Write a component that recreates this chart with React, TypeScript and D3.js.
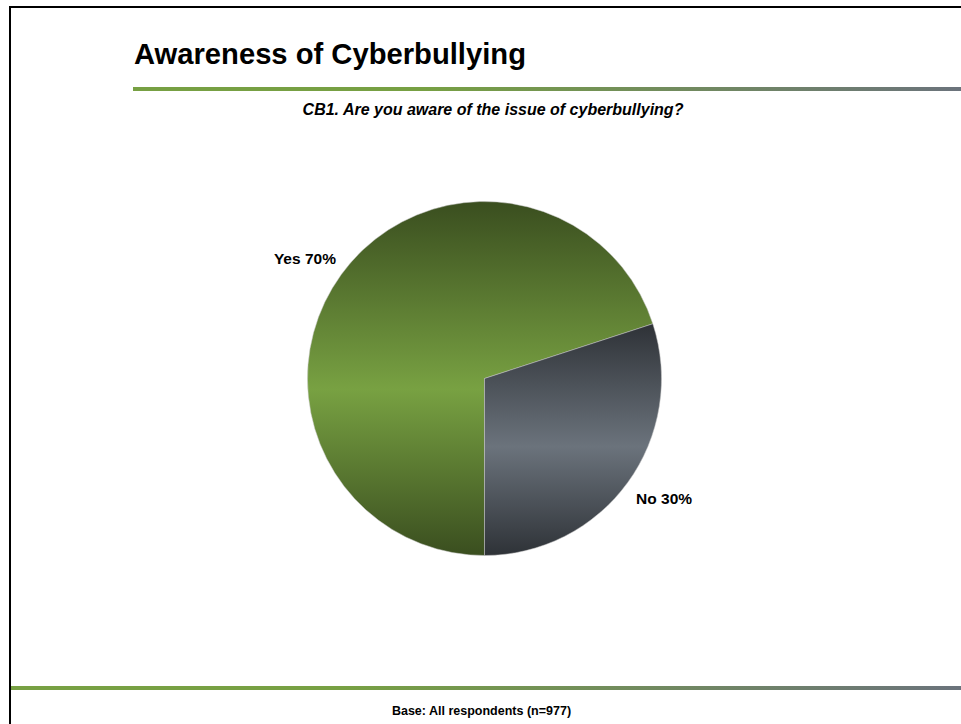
import React from "react";
import * as d3 from "d3";

const categories = ["Yes", "No"];
const values = [70, 30];
const title = "Awareness of Cyberbullying";
const subtitle = "CB1. Are you aware of the issue of cyberbullying?";
const footer = "Base: All respondents (n=977)";

const W = 961;
const H = 724;
const cx = 484.5;
const cy = 378.5;
const R = 177;
const FONT = "Arial, 'Liberation Sans', Helvetica, sans-serif";

const sliceGrad = [
  { id: "gYes", dark: "#3a4e1f", light: "#78a142" },
  { id: "gNo", dark: "#2e3237", light: "#6b737c" },
];

export default function App() {
  const data = categories.map((c, i) => ({ label: c, value: values[i] }));
  const pie = d3
    .pie<{ label: string; value: number }>()
    .value((d) => d.value)
    .sort(null)
    .startAngle(Math.PI)
    .endAngle(3 * Math.PI);
  const arcs = pie(data);
  const arc = d3.arc<any>().innerRadius(0).outerRadius(R);
  const labelArcX = d3.arc<any>().innerRadius(222).outerRadius(222);
  const labelArcY = d3.arc<any>().innerRadius(204).outerRadius(204);

  return (
    <svg
      width={W}
      height={H}
      style={{ position: "absolute", left: 0, top: 0, background: "#fff" }}
    >
      <defs>
        {sliceGrad.map((g) => (
          <linearGradient key={g.id} id={g.id} x1="0" y1="0" x2="0" y2="1">
            <stop offset="0" stopColor={g.dark} />
            <stop offset="0.53" stopColor={g.light} />
            <stop offset="1" stopColor={g.dark} />
          </linearGradient>
        ))}
        <linearGradient id="lineGrad" x1="0" y1="0" x2="1" y2="0">
          <stop offset="0" stopColor="#77a043" />
          <stop offset="0.35" stopColor="#77a043" />
          <stop offset="1" stopColor="#6b737c" />
        </linearGradient>
      </defs>
      <rect x={10} y={7} width={W + 20} height={H + 20} fill="none" stroke="#000" strokeWidth={2} />
      <text x={134} y={64} fontFamily={FONT} fontWeight="bold" fontSize={29.2} fill="#000">
        {title}
      </text>
      <rect x={133} y={87} width={W - 133} height={4} fill="url(#lineGrad)" />
      <text
        x={493}
        y={115}
        fontFamily={FONT}
        fontWeight="bold"
        fontStyle="italic"
        fontSize={16}
        textAnchor="middle"
        fill="#000"
      >
        {subtitle}
      </text>
      <g transform={`translate(${cx},${cy})`}>
        {arcs.map((a, i) => (
          <path
            key={a.data.label}
            d={arc(a) as string}
            fill={`url(#${sliceGrad[i].id})`}
            stroke="#c8c8c8"
            strokeWidth={0.5}
          />
        ))}
        {arcs.map((a) => {
          const [lx] = labelArcX.centroid(a);
          const [, ly] = labelArcY.centroid(a);
          return (
            <text
              key={"l" + a.data.label}
              x={lx}
              y={ly}
              dy="0.35em"
              textAnchor="middle"
              fontFamily={FONT}
              fontWeight="bold"
              fontSize={15.5}
              fill="#000"
            >
              {`${a.data.label} ${a.data.value}%`}
            </text>
          );
        })}
      </g>
      <rect x={11} y={686} width={W - 11} height={4} fill="url(#lineGrad)" />
      <text
        x={481.5}
        y={715}
        fontFamily={FONT}
        fontWeight="bold"
        fontSize={12.5}
        textAnchor="middle"
        fill="#000"
      >
        {footer}
      </text>
    </svg>
  );
}
